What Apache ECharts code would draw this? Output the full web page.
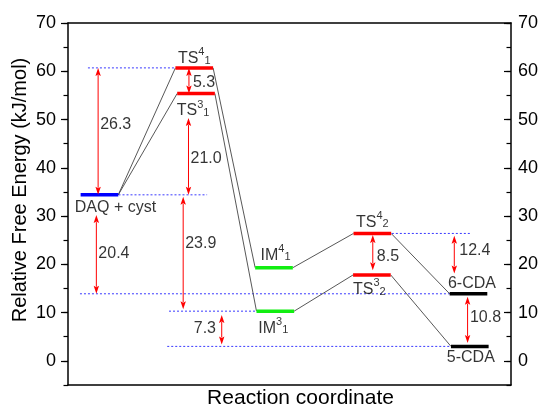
<!DOCTYPE html>
<html><head><meta charset="utf-8">
<script src="https://cdn.jsdelivr.net/npm/echarts@6/dist/echarts.min.js"></script>
<style>html,body{margin:0;padding:0;background:#fff}#c{width:538px;height:407px}</style>
</head><body><div id="c"></div>
<script>
// ---------------- data ----------------
const levelNames  = ['DAQ + cyst','TS4_1','TS3_1','IM4_1','IM3_1','TS4_2','TS3_2','6-CDA','5-CDA'];
const levelEnergy = [34.4, 60.7, 55.4, 19.3, 10.3, 26.4, 17.8, 13.9, 3.0];
const levelCoord  = [0.71, 2.85, 2.89, 4.65, 4.68, 6.87, 6.86, 9.04, 9.07];
const pathway4 = ['DAQ + cyst','TS4_1','IM4_1','TS4_2','6-CDA'];
const pathway3 = ['DAQ + cyst','TS3_1','IM3_1','TS3_2','5-CDA'];
const guideLevel = ['TS4_1','DAQ + cyst','6-CDA','IM3_1','5-CDA','TS4_2'];
const guideFrom  = [0.45, 1.14, 0.27, 2.28, 2.24, 7.31];
const guideTo    = [2.42, 3.14, 8.62, 4.26, 8.64, 9.07];
const gapLabels  = ['26.3','5.3','21.0','20.4','23.9','7.3','8.5','12.4','10.8'];
const gapCoord   = [0.68, 2.73, 2.72, 0.64, 2.60, 3.47, 6.88, 8.72, 9.02];
const gapTop     = [60.7, 60.7, 50.3, 30.2, 34.0, 9.5, 26.1, 25.9, 13.3];
const gapBottom  = [34.4, 55.4, 34.4, 13.9, 10.7, 3.4, 18.8, 18.1, 3.7];
const yTicks = [0, 10, 20, 30, 40, 50, 60, 70];

// ---------------- layout / style ----------------
const FONT = '"Liberation Sans", Arial, sans-serif';
const LEVEL_W = 0.85;
const labelLayout = {
  'DAQ + cyst':[16,13], 'TS4_1':[0,-9], 'TS3_1':[-3,17.5], 'IM4_1':[1.5,-12.5], 'IM3_1':[-2,17],
  'TS4_2':[0,-11], 'TS3_2':[-2.5,15], '6-CDA':[3.5,-10.5], '5-CDA':[1,11.5]
};
const gapLayout = [['right',2,-6.5],['right',4,2.4],['right',2,1.7],['right',2,-1],['right',2,-9.7],
                   ['left',5.7,-1.3],['right',4,4],['right',5,-3.7],['right',2.3,-2.4]];
function levelColor(n){
  if (n.startsWith('TS')) return '#ff0000';
  if (n.startsWith('IM')) return '#11ee11';
  if (n.startsWith('DAQ')) return '#0000ff';
  return '#000000';
}
function levelText(n){
  return n.replace(/^(TS|IM)(\d)_(\d)$/, '$1{sup|$2}{sub|$3}');
}
const idx = n => levelNames.indexOf(n);

const levelData = levelNames.map((n,i)=>[levelCoord[i], levelEnergy[i], i]);
const connData = [];
[pathway4, pathway3].forEach(p=>{
  for (let k=0;k<p.length-1;k++){
    const a=idx(p[k]), b=idx(p[k+1]);
    connData.push([levelCoord[a]+LEVEL_W/2, levelEnergy[a], levelCoord[b]-LEVEL_W/2, levelEnergy[b]]);
  }
});
const guideData = guideLevel.map((n,i)=>[guideFrom[i], guideTo[i], levelEnergy[idx(n)]]);
const arrowData = gapLabels.map((t,i)=>[gapCoord[i], gapTop[i], gapBottom[i]]);

const chart = echarts.init(document.getElementById('c'), null, {renderer:'canvas'});
const axisLineStyle = {color:'#000', width:1.5};
const yBase = {type:'value', min:-5, max:70, splitLine:{show:false}};
const option = {
  animation:false,
  backgroundColor:'#fff',
  grid:{left:68, right:27, top:23, bottom:22, containLabel:false, outerBoundsMode:'none'},
  xAxis:[
    {type:'value', position:'bottom', min:0, max:10,
     axisLine:{show:true, onZero:false, lineStyle:axisLineStyle}, axisTick:{show:false}, axisLabel:{show:false}, splitLine:{show:false},
     name:'Reaction coordinate', nameLocation:'middle', nameGap:3,
     nameTextStyle:{fontSize:21, color:'#000', fontFamily:FONT, padding:[0,0,0,22]}},
    {type:'value', position:'top', min:0, max:10,
     axisLine:{show:true, onZero:false, lineStyle:axisLineStyle}, axisTick:{show:false}, axisLabel:{show:false}, splitLine:{show:false}}
  ],
  yAxis:[
    Object.assign({}, yBase, {position:'left', interval:5,
      axisLine:{show:true, onZero:false, lineStyle:axisLineStyle},
      axisTick:{show:true, length:4.5, lineStyle:{color:'#000', width:1.2}}, axisLabel:{show:false},
      name:'Relative Free Energy (kJ/mol)', nameLocation:'middle', nameGap:38, nameRotate:90,
      nameTextStyle:{fontSize:20, color:'#000', fontFamily:FONT, padding:[0,0,0,28]}}),
    Object.assign({}, yBase, {position:'left',
      axisLine:{show:false, onZero:false},
      axisTick:{show:true, length:7, customValues:yTicks, lineStyle:{color:'#000', width:1.2}},
      axisLabel:{show:true, customValues:yTicks, margin:12, fontSize:18, color:'#000', fontFamily:FONT}}),
    Object.assign({}, yBase, {position:'right', interval:5,
      axisLine:{show:true, onZero:false, lineStyle:axisLineStyle},
      axisTick:{show:true, inside:true, length:4.5, lineStyle:{color:'#000', width:1.2}}, axisLabel:{show:false}}),
    Object.assign({}, yBase, {position:'right',
      axisLine:{show:false, onZero:false},
      axisTick:{show:true, inside:true, length:7, customValues:yTicks, lineStyle:{color:'#000', width:1.2}},
      axisLabel:{show:true, customValues:yTicks, margin:7, fontSize:18, color:'#000', fontFamily:FONT}})
  ],
  series:[
    { // guide lines
      type:'custom', coordinateSystem:'cartesian2d', silent:true, z:1, clip:false,
      encode:{x:[0,1], y:2}, data:guideData,
      renderItem:(params, api)=>{
        const p1 = api.coord([api.value(0), api.value(2)]);
        const p2 = api.coord([api.value(1), api.value(2)]);
        return {type:'line', shape:{x1:p1[0], y1:p1[1], x2:p2[0], y2:p2[1]},
                style:{stroke:'#3a3aff', lineWidth:1, lineDash:[2,2]}};
      }
    },
    { // connectors
      type:'custom', coordinateSystem:'cartesian2d', silent:true, z:2, clip:false,
      encode:{x:[0,2], y:[1,3]}, data:connData,
      renderItem:(params, api)=>{
        const p1 = api.coord([api.value(0), api.value(1)]);
        const p2 = api.coord([api.value(2), api.value(3)]);
        return {type:'line', shape:{x1:p1[0], y1:p1[1], x2:p2[0], y2:p2[1]},
                style:{stroke:'#444', lineWidth:0.9}};
      }
    },
    { // energy levels
      type:'custom', coordinateSystem:'cartesian2d', silent:true, z:3, clip:false,
      encode:{x:0, y:1}, data:levelData,
      renderItem:(params, api)=>{
        const x = api.value(0), y = api.value(1);
        const p1 = api.coord([x-LEVEL_W/2, y]);
        const p2 = api.coord([x+LEVEL_W/2, y]);
        return {type:'line', shape:{x1:p1[0], y1:p1[1], x2:p2[0], y2:p2[1]},
                style:{stroke:levelColor(levelNames[api.value(2)]), lineWidth:3.5}};
      }
    },
    { // gap arrows
      type:'custom', coordinateSystem:'cartesian2d', silent:true, z:4, clip:false,
      encode:{x:0, y:[1,2]}, data:arrowData,
      renderItem:(params, api)=>{
        const x = api.value(0);
        const p1 = api.coord([x, api.value(1)]);
        const p2 = api.coord([x, api.value(2)]);
        const L = 8, W = 2.7, col = '#ff0000';
        return {type:'group', children:[
          {type:'line', shape:{x1:p1[0], y1:p1[1]+L-1, x2:p2[0], y2:p2[1]-L+1}, style:{stroke:col, lineWidth:1}},
          {type:'polygon', shape:{points:[[p1[0],p1[1]],[p1[0]-W,p1[1]+L],[p1[0],p1[1]+L-1.5],[p1[0]+W,p1[1]+L]]}, style:{fill:col}},
          {type:'polygon', shape:{points:[[p2[0],p2[1]],[p2[0]-W,p2[1]-L],[p2[0],p2[1]-L+1.5],[p2[0]+W,p2[1]-L]]}, style:{fill:col}}
        ]};
      }
    },
    { // level labels
      type:'scatter', silent:true, z:10, symbolSize:1, itemStyle:{color:'rgba(0,0,0,0)'},
      label:{show:true, fontSize:16, lineHeight:16, color:'#000', fontFamily:FONT,
        rich:{
          sup:{fontSize:11, lineHeight:11, padding:[0,0,13,0], color:'#000', fontFamily:FONT},
          sub:{fontSize:11, lineHeight:11, padding:[4,0,0,0], color:'#000', fontFamily:FONT}
        }},
      data: levelNames.map((n,i)=>({value:[levelCoord[i], levelEnergy[i]],
        label:{show:true, position:'inside', offset:labelLayout[n], formatter:levelText(n)}}))
    },
    { // gap labels
      type:'scatter', silent:true, z:10, symbolSize:0.01, itemStyle:{color:'rgba(0,0,0,0)'},
      label:{show:true, fontSize:16, color:'#000', fontFamily:FONT},
      data: gapLabels.map((t,i)=>({value:[gapCoord[i], (gapTop[i]+gapBottom[i])/2],
        label:{show:true, position:gapLayout[i][0], distance:gapLayout[i][1], offset:[0,gapLayout[i][2]], formatter:t}}))
    }
  ]
};
chart.setOption(option);
</script>
</body></html>
